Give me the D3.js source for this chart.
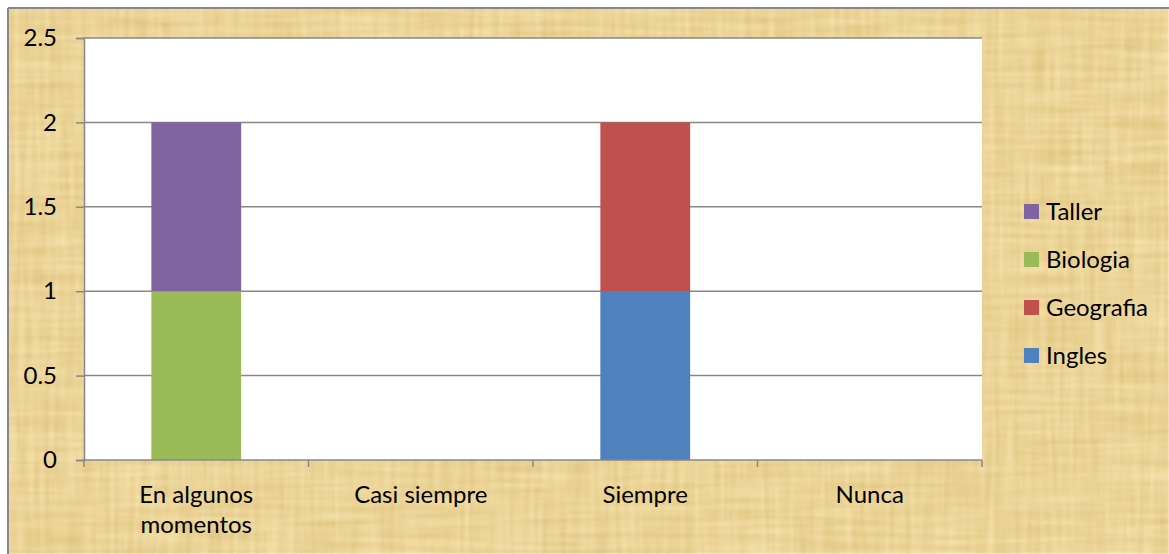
<!DOCTYPE html>
<html>
<head>
<meta charset="utf-8">
<script src="https://cdn.jsdelivr.net/npm/d3@7"></script>
<style>
  html, body { margin: 0; padding: 0; background: #ffffff; }
  svg { display: block; }
  text { font-family: Lato, "Open Sans", sans-serif; fill: #000; }
</style>
</head>
<body>
<svg id="chart" width="1169" height="554"></svg>
<script>
// Categories on the x axis
const categories = ["En algunos momentos", "Casi siempre", "Siempre", "Nunca"];
// Series, bottom of the stack first
const seriesNames = ["Ingles", "Geografia", "Biologia", "Taller"];
const ingles    = [0, 0, 1, 0];
const geografia = [0, 0, 1, 0];
const biologia  = [1, 0, 0, 0];
const taller    = [1, 0, 0, 0];
const seriesColors = ["#4F81BD", "#C0504D", "#9BBB59", "#8064A2"];
const yTicks = [0, 0.5, 1, 1.5, 2, 2.5];
const yTickLabels = ["0", "0.5", "1", "1.5", "2", "2.5"];

const seriesValues = [ingles, geografia, biologia, taller];
const rows = categories.map((c, i) => {
  const r = { category: c };
  seriesNames.forEach((s, j) => { r[s] = seriesValues[j][i]; });
  return r;
});

const svg = d3.select("#chart");
const W = 1169, H = 554;
const FONT = 24;

// Parchment background: vertical and horizontal fibre noise mapped to tan shades
const defs = svg.append("defs");
const f = defs.append("filter").attr("id", "papyrus")
  .attr("color-interpolation-filters", "sRGB")
  .attr("x", 0).attr("y", 0).attr("width", "100%").attr("height", "100%");
f.append("feTurbulence").attr("type", "fractalNoise")
  .attr("baseFrequency", "0.2 0.01").attr("numOctaves", 3).attr("seed", 4).attr("result", "vert");
f.append("feTurbulence").attr("type", "fractalNoise")
  .attr("baseFrequency", "0.01 0.18").attr("numOctaves", 3).attr("seed", 9).attr("result", "horz");
f.append("feComposite").attr("in", "vert").attr("in2", "horz")
  .attr("operator", "arithmetic").attr("k2", 0.5).attr("k3", 0.5).attr("result", "mix");
f.append("feColorMatrix").attr("in", "mix").attr("type", "matrix")
  .attr("values",
    "0.16 0 0 0 0.84  " +
    "0.21 0 0 0 0.725  " +
    "0.31 0 0 0 0.435  " +
    "0 0 0 0 1")
  .attr("result", "shade");
f.append("feGaussianBlur").attr("in", "shade").attr("stdDeviation", 0.8);

const bgX = 8, bgY = 8;
svg.append("rect").attr("x", bgX).attr("y", bgY).attr("width", W - bgX).attr("height", H - bgY)
  .attr("fill", "#e8cf90").attr("filter", "url(#papyrus)");
svg.append("line").attr("x1", bgX).attr("x2", W).attr("y1", bgY).attr("y2", bgY)
  .attr("stroke", "#888888").attr("stroke-width", 2);
svg.append("line").attr("x1", bgX).attr("x2", bgX).attr("y1", bgY).attr("y2", H)
  .attr("stroke", "#888888").attr("stroke-width", 2);

// Plot area
const plot = { left: 84, right: 982, top: 38, bottom: 460 };

const x = d3.scaleBand().domain(categories)
  .range([plot.left, plot.right]).paddingInner(0.6).paddingOuter(0.3);
const xTickScale = d3.scaleLinear().domain([0, categories.length]).range([plot.left, plot.right]);
const y = d3.scaleLinear().domain([0, 2.5]).range([plot.bottom, plot.top]);

svg.append("rect").attr("x", plot.left).attr("y", plot.top)
  .attr("width", plot.right - plot.left).attr("height", plot.bottom - plot.top)
  .attr("fill", "#ffffff");

// Gridlines
svg.append("g").selectAll("line").data(yTicks.filter(t => t > 0)).join("line")
  .attr("x1", plot.left).attr("x2", plot.right)
  .attr("y1", d => y(d)).attr("y2", d => y(d))
  .attr("stroke", "#878787").attr("stroke-width", 1.5);

// Stacked bars
const stack = d3.stack().keys(seriesNames)(rows);
svg.append("g").selectAll("g").data(stack).join("g")
  .attr("fill", (d, i) => seriesColors[i])
  .selectAll("rect").data(d => d).join("rect")
  .attr("x", d => x(d.data.category))
  .attr("width", x.bandwidth())
  .attr("y", d => y(d[1]))
  .attr("height", d => y(d[0]) - y(d[1]));

// Y axis
const yAxis = d3.axisLeft(y).tickValues(yTicks)
  .tickFormat((d, i) => yTickLabels[i]).tickSize(8).tickPadding(19);
const gy = svg.append("g").attr("transform", `translate(${plot.left},0)`).call(yAxis);
gy.select(".domain").attr("stroke", "#878787").attr("stroke-width", 1.5);
gy.selectAll(".tick line").attr("stroke", "#878787").attr("stroke-width", 1.5);
gy.selectAll(".tick text").attr("font-size", FONT).attr("font-family", "Lato, sans-serif").attr("fill", "#000");

// X axis: baseline and boundary ticks
const gx = svg.append("g");
gx.append("line").attr("x1", plot.left).attr("x2", plot.right)
  .attr("y1", plot.bottom).attr("y2", plot.bottom)
  .attr("stroke", "#878787").attr("stroke-width", 1.5);
gx.selectAll("line.tk").data(d3.range(categories.length + 1)).join("line").attr("class", "tk")
  .attr("x1", d => xTickScale(d)).attr("x2", d => xTickScale(d))
  .attr("y1", plot.bottom).attr("y2", plot.bottom + 7)
  .attr("stroke", "#878787").attr("stroke-width", 1.5);

// Category labels, wrapped to two lines where needed
const wrapped = { "En algunos momentos": ["En algunos", "momentos"] };
gx.selectAll("text.cat").data(categories).join("text").attr("class", "cat")
  .attr("x", d => x(d) + x.bandwidth() / 2)
  .attr("y", plot.bottom + 43)
  .attr("text-anchor", "middle").attr("font-size", FONT)
  .each(function(d) {
    const lines = wrapped[d] || [d];
    d3.select(this).selectAll("tspan").data(lines).join("tspan")
      .attr("x", x(d) + x.bandwidth() / 2)
      .attr("dy", (l, i) => i === 0 ? 0 : 30)
      .text(l => l);
  });

// Legend, top entry is the top of the stack
const legendOrder = seriesNames.map((s, i) => ({ name: s, color: seriesColors[i] })).reverse();
const lg = svg.append("g").attr("transform", "translate(1024,212)");
const item = lg.selectAll("g").data(legendOrder).join("g")
  .attr("transform", (d, i) => `translate(0,${i * 48})`);
item.append("rect").attr("x", 0).attr("y", -8).attr("width", 15).attr("height", 15)
  .attr("fill", d => d.color);
item.append("text").attr("x", 22).attr("y", 0).attr("dy", "0.35em")
  .attr("font-size", FONT).text(d => d.name);
</script>
</body>
</html>
